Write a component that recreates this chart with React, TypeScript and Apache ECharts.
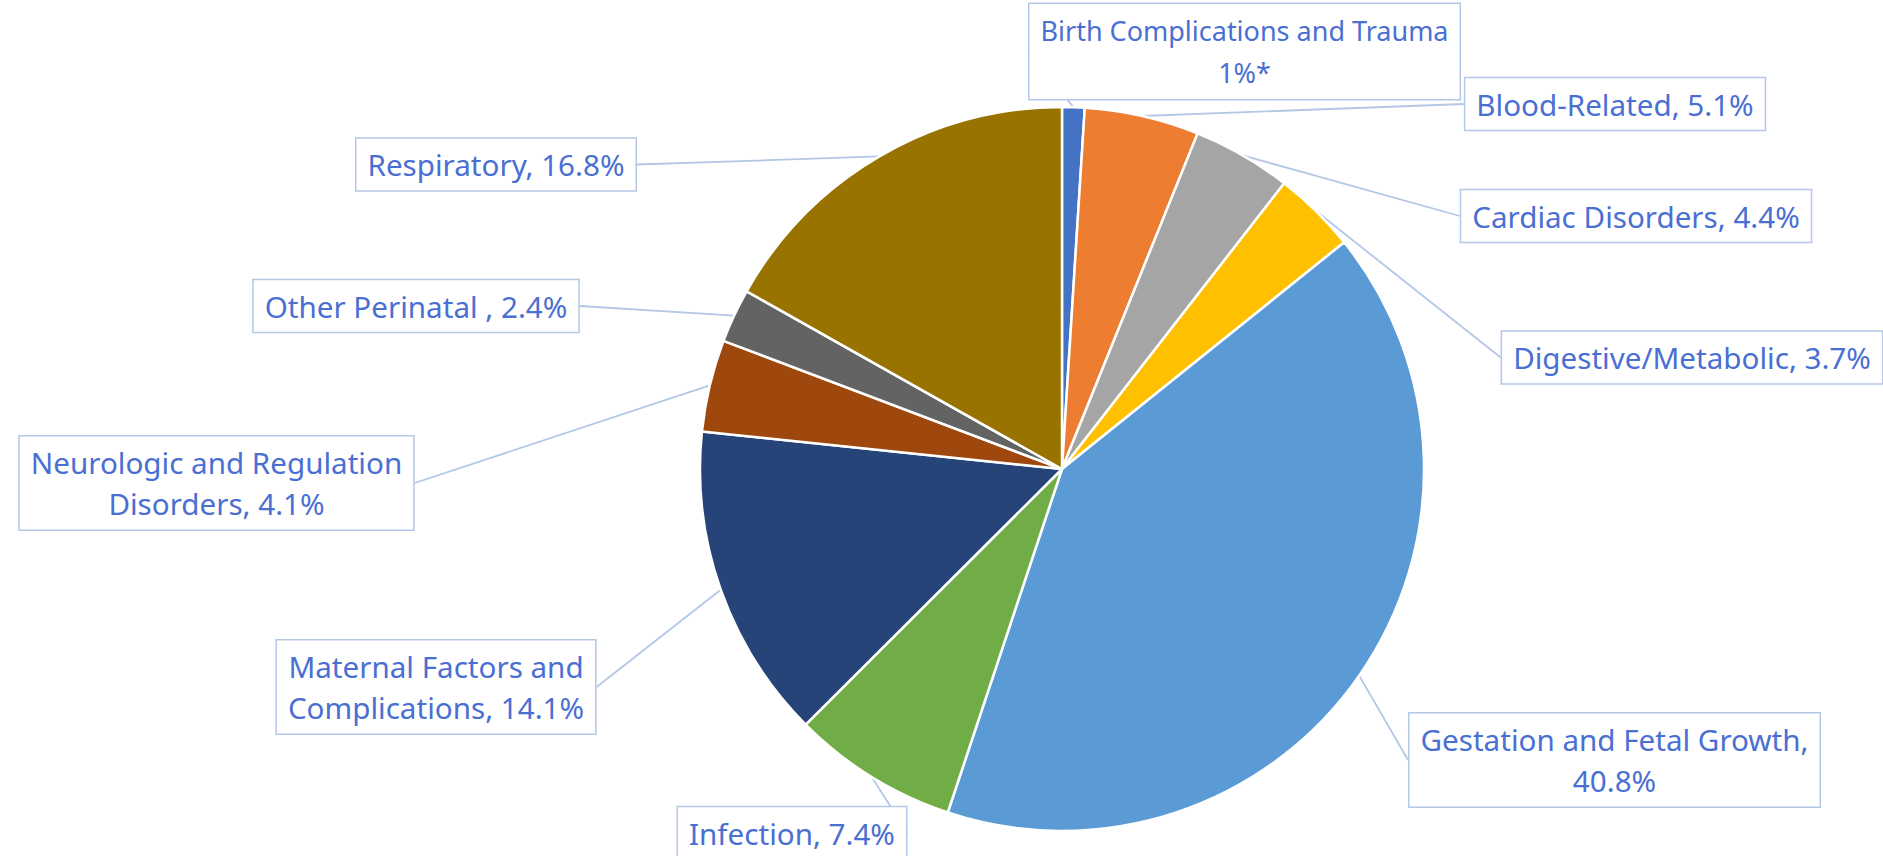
import React, { useEffect, useRef } from "react";
import * as echarts from "echarts";

const categories = [
  "Birth Complications and Trauma",
  "Blood-Related",
  "Cardiac Disorders",
  "Digestive/Metabolic",
  "Gestation and Fetal Growth",
  "Infection",
  "Maternal Factors and Complications",
  "Neurologic and Regulation Disorders",
  "Other Perinatal",
  "Respiratory",
];
const values = [1, 5.1, 4.4, 3.7, 40.8, 7.4, 14.1, 4.1, 2.4, 16.8];
const labelTexts = [
  "Birth Complications and Trauma\n1%*",
  "Blood-Related, 5.1%",
  "Cardiac Disorders, 4.4%",
  "Digestive/Metabolic, 3.7%",
  "Gestation and Fetal Growth,\n40.8%",
  "Infection, 7.4%",
  "Maternal Factors and\nComplications, 14.1%",
  "Neurologic and Regulation\nDisorders, 4.1%",
  "Other Perinatal , 2.4%",
  "Respiratory, 16.8%",
];
const colors = [
  "#4472C4",
  "#ED7D31",
  "#A5A5A5",
  "#FFC000",
  "#5B9BD5",
  "#70AD47",
  "#264478",
  "#9E480E",
  "#636363",
  "#997300",
];
// label box centres (layout only)
const labelPos: [number, number][] = [
  [1244.5, 51.5],
  [1615, 104],
  [1636, 216],
  [1692, 357.5],
  [1614.5, 760],
  [792, 833],
  [436, 687],
  [216.5, 483],
  [416, 306],
  [496, 164.5],
];
const labelFontSizes = [27, 29.6, 29.6, 29.6, 29.6, 29.6, 29.6, 29.6, 29.6, 29.6];

export default function App() {
  const ref = useRef<HTMLDivElement>(null);
  useEffect(() => {
    if (!ref.current) return;
    const chart = echarts.init(ref.current, null, { renderer: "svg" });
    chart.setOption({
      animation: false,
      backgroundColor: "#ffffff",
      series: [
        {
          type: "pie",
          center: [1062, 469],
          radius: 362,
          startAngle: 90,
          clockwise: true,
          avoidLabelOverlap: false,
          data: categories.map((name, i) => ({
            name,
            value: values[i],
            itemStyle: { color: colors[i] },
            label: {
              fontSize: labelFontSizes[i],
              padding: labelFontSizes[i] < 28 ? [6, 11] : [5, 11],
            },
          })),
          itemStyle: { borderColor: "#ffffff", borderWidth: 2.5 },
          label: {
            show: true,
            formatter: (p: any) => labelTexts[p.dataIndex],
            fontFamily: "Noto Sans",
            fontSize: 29.6,
            lineHeight: 41.5,
            color: "#4A6FD2",
            align: "center",
            backgroundColor: "#ffffff",
            borderColor: "#B4C7E7",
            borderWidth: 1.5,
            padding: [5, 11],
          },
          labelLine: {
            show: true,
            length: 10,
            length2: 0,
            lineStyle: { color: "#B4C7E7", width: 1.8 },
          },
          labelLayout: (params: any) => {
            const p = labelPos[params.dataIndex];
            return { x: p[0], y: p[1], align: "center", verticalAlign: "middle" };
          },
          emphasis: { disabled: true },
        },
      ],
    });
    return () => chart.dispose();
  }, []);
  return (
    <div
      ref={ref}
      style={{ position: "fixed", left: 0, top: 0, width: 1883, height: 856 }}
    />
  );
}
